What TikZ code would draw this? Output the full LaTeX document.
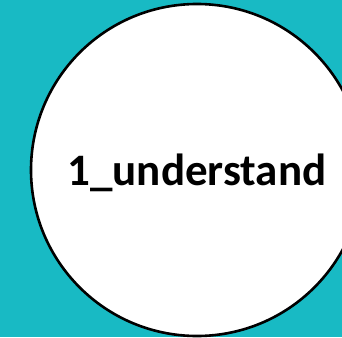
\documentclass[tikz,border=0pt]{standalone}
\usepackage{fontspec}
\setmainfont{Carlito}
\definecolor{teal1}{HTML}{18BAC4}
\begin{document}
\begin{tikzpicture}[x=1pt,y=-1pt,
  circ/.style={circle,draw=black,line width=2.6pt,fill=white,minimum size=332pt,inner sep=0pt},
  lbl/.style={font=\fontsize{45}{52}\selectfont\bfseries,text=black}]
\fill[teal1] (0,0) rectangle (342,337);
\useasboundingbox (0,0) rectangle (342,337);
\clip (0,0) rectangle (342,337);
\node[circ] (c) at (197,170) {};
\node[lbl] (t) at (197,173) {1\_understand};
\end{tikzpicture}
\end{document}
